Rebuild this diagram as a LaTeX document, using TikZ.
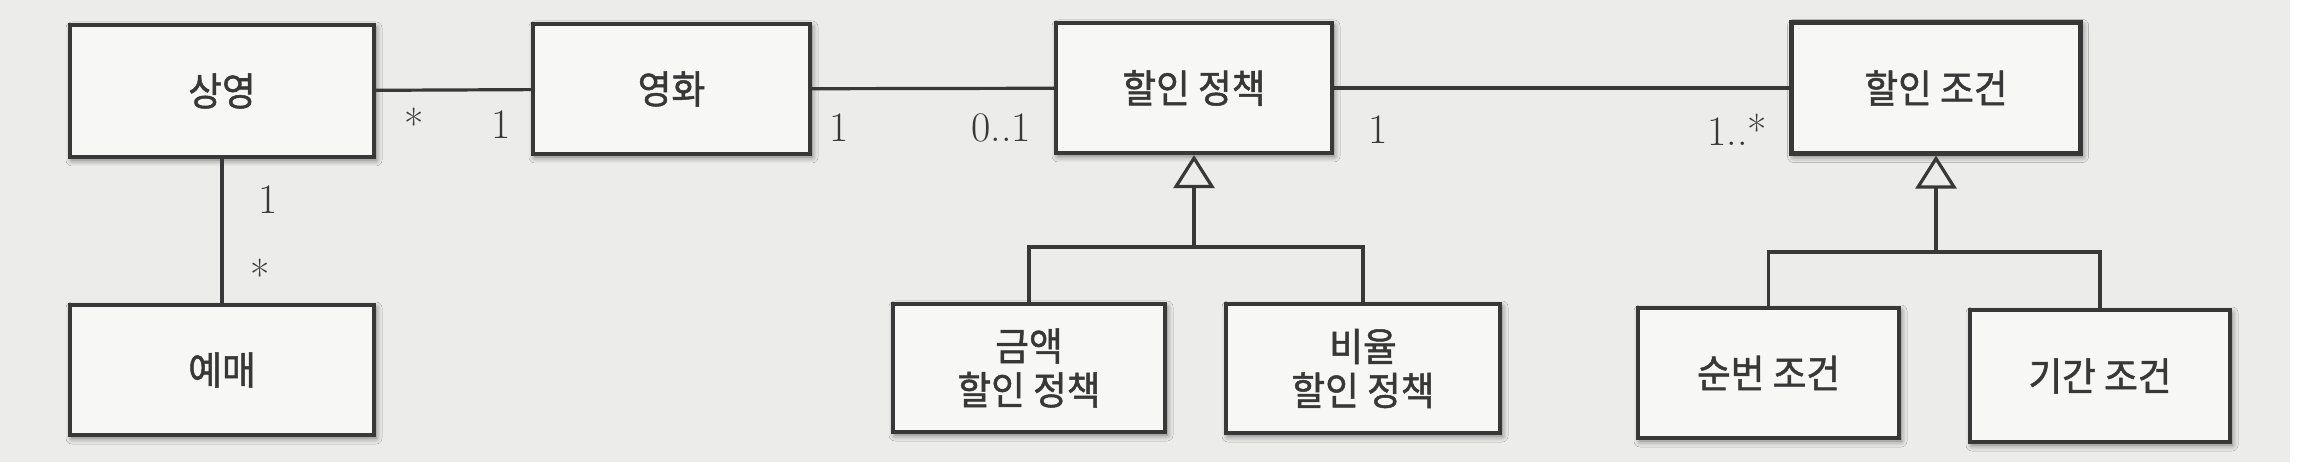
\documentclass[tikz,border=0pt]{standalone}
\usepackage{fontspec}
\newfontfamily\kr{Noto Sans CJK KR}[FakeBold=1.3, FakeStretch=0.94]
\usetikzlibrary{arrows.meta,shadows.blur}
\definecolor{paper}{HTML}{ECECEA}
\definecolor{ink}{HTML}{383838}
\definecolor{boxfill}{HTML}{F7F7F6}
\begin{document}
\begin{tikzpicture}[x=0.5pt,y=-0.5pt,
  cls/.style={draw=ink, line width=2.1pt, fill=boxfill,
    blur shadow={shadow xshift=1pt, shadow yshift=-1.5pt, shadow blur radius=3pt, shadow opacity=55},
    inner sep=0pt, align=center, text=ink,
    font=\kr\fontsize{19.5}{22}\selectfont},
  assoc/.style={draw=ink, line width=1.6pt},
  gen/.style={draw=ink, line width=1.6pt},
  gentip/.style={-{Triangle[open, length=16.5pt, width=20.5pt, line width=1.6pt]}},
  mult/.style={font=\fontsize{21}{24}\selectfont, text=ink, inner sep=0pt},
]
\useasboundingbox (0,0) rectangle (2316,474);
\fill[white] (0,0) rectangle (2316,474);
\fill[paper] (0,0) rectangle (2290,462);

% classes
\node[cls, minimum width=152pt, minimum height=66pt] (sang) at (222,91) {상영};
\node[cls, minimum width=152pt, minimum height=65pt] (yemae) at (222,370) {예매};
\node[cls, minimum width=138.5pt, minimum height=65pt] (movie) at (671.5,89) {영화};
\node[cls, minimum width=138pt, minimum height=65pt] (policy) at (1194,88) {할인 정책};
\node[cls, minimum width=144.5pt, minimum height=65.5pt] (cond) at (1936,88) {할인 조건};
\node[cls, minimum width=136pt, minimum height=64pt] (amount) at (1029,368) {금액\\할인 정책};
\node[cls, minimum width=137pt, minimum height=64.5pt] (ratio) at (1363,368.5) {비율\\할인 정책};
\node[cls, minimum width=130.5pt, minimum height=65pt] (seq) at (1768.5,373) {순번 조건};
\node[cls, minimum width=130pt, minimum height=66pt] (period) at (2100,376) {기간 조건};

% associations
\draw[assoc] (sang) -- (movie);
\draw[assoc] (movie) -- (policy);
\draw[assoc] (policy) -- (cond);
\draw[assoc] (sang) -- (yemae);

% multiplicities
\node[mult] (m1) at (414,124) {*};
\node[mult] (m2) at (501,125) {1};
\node[mult] (m3) at (839,128) {1};
\node[mult] (m4) at (1001,128) {0..1};
\node[mult] (m5) at (1378,130) {1};
\node[mult] (m6) at (1737,130) {1..*};
\node[mult] (m7) at (268,200) {1};
\node[mult] (m8) at (260,275) {*};

% generalizations
\coordinate (jp) at (1194,247);
\draw[gen] (amount.north) |- (jp) -| (ratio.north);
\draw[gen, gentip] (jp) -- (policy.south);
\coordinate (jc) at (1936,252);
\draw[gen] (seq.north) |- (jc) -| (period.north);
\draw[gen, gentip] (jc) -- (cond.south);
\end{tikzpicture}
\end{document}
